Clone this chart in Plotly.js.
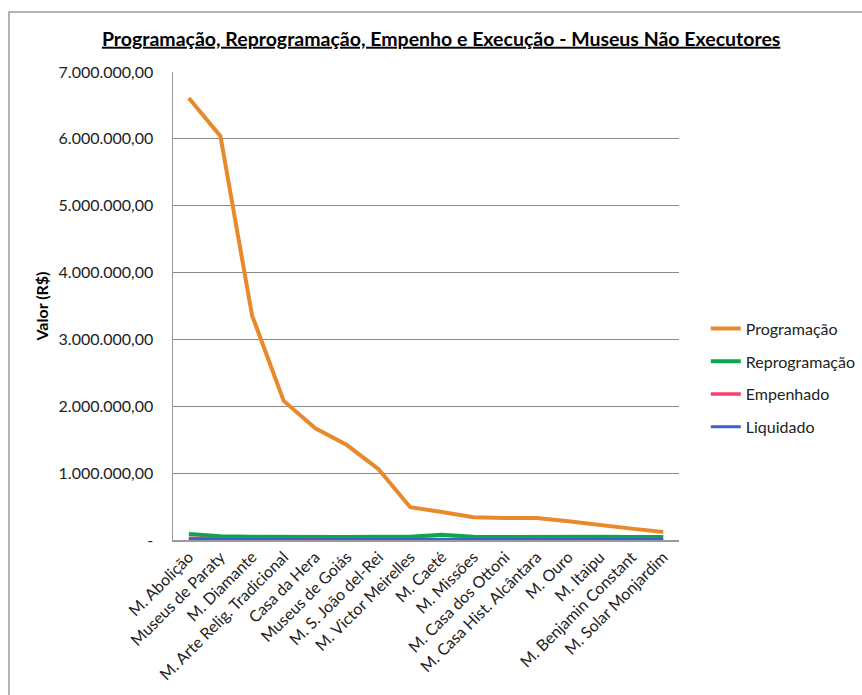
<!DOCTYPE html>
<html>
<head>
<meta charset="utf-8">
<script src="https://cdn.plot.ly/plotly-3.0.1.min.js"></script>
<style>
  html, body { margin: 0; padding: 0; background: #fff; }
  #chart { width: 862px; height: 695px; }
</style>
</head>
<body>
<div id="chart"></div>
<script>
const categories = [
  "M. Abolição", "Museus de Paraty", "M. Diamante", "M. Arte Relig. Tradicional",
  "Casa da Hera", "Museus de Goiás", "M. S. João del-Rei", "M. Victor Meirelles",
  "M. Caeté", "M. Missões", "M. Casa dos Ottoni", "M. Casa Hist. Alcântara",
  "M. Ouro", "M. Itaipu", "M. Benjamin Constant", "M. Solar Monjardim"
];
const programacao = [6610000, 6040000, 3360000, 2080000, 1670000, 1420000, 1060000, 490000,
  420000, 340000, 330000, 330000, 280000, 220000, 170000, 120000];
const reprogramacao = [90000, 55000, 50000, 45000, 40000, 45000, 50000, 50000,
  80000, 50000, 45000, 50000, 50000, 50000, 45000, 45000];
const empenhado = [25000, 20000, 15000, 5000, 0, 10000, 15000, 20000,
  0, 15000, 10000, 20000, 15000, 0, 20000, 0];
const liquidado = [15000, 10000, 10000, 5000, 5000, 10000, 10000, 15000,
  10000, 10000, 10000, 10000, 15000, 10000, 15000, 10000];
const yTickVals = [0, 1000000, 2000000, 3000000, 4000000, 5000000, 6000000, 7000000];
const yTickText = ["-", "1.000.000,00", "2.000.000,00", "3.000.000,00", "4.000.000,00",
  "5.000.000,00", "6.000.000,00", "7.000.000,00"];

const FONT = "Lato, 'Open Sans', sans-serif";

function tr(name, y, color, width, group) {
  return {
    type: 'scatter', mode: 'lines', name: name, x: categories, y: y,
    line: { color: color, width: width }, cliponaxis: false,
    legendgroup: group, hoverinfo: 'x+y'
  };
}

const data = [
  tr('Programação', programacao, '#E8892B', 4, 'a'),
  tr('Reprogramação', reprogramacao, '#0BA64E', 4, 'b'),
  tr('Empenhado', empenhado, '#FF3C6E', 3.5, 'c'),
  tr('Liquidado', liquidado, '#3A62C8', 3, 'd')
];

const layout = {
  width: 862, height: 695,
  margin: { l: 173, r: 183, t: 72, b: 155, autoexpand: false },
  paper_bgcolor: '#fff', plot_bgcolor: '#fff',
  font: { family: FONT, color: '#222', size: 16 },
  title: {
    text: '<b><u>Programação, Reprogramação, Empenho e Execução - Museus Não Executores</u></b>',
    font: { family: FONT, size: 19.5, color: '#000' },
    xref: 'paper', x: 0.53, xanchor: 'center',
    yref: 'container', y: 0.944, yanchor: 'middle'
  },
  xaxis: {
    type: 'category', range: [-0.5, 15.5],
    tickangle: -45, showgrid: false, showline: true, linecolor: '#9a9a9a', linewidth: 1.5,
    ticks: '', tickfont: { family: FONT, size: 16, color: '#222' }, zeroline: false,
    fixedrange: true
  },
  yaxis: {
    range: [0, 7000000], tickvals: yTickVals, ticktext: yTickText,
    showgrid: true, gridcolor: '#8a8a8a', gridwidth: 1,
    showline: true, linecolor: '#9a9a9a', linewidth: 1.5, zeroline: false,
    ticks: 'outside', ticklen: 15, tickcolor: 'rgba(255,255,255,0)',
    tickfont: { family: FONT, size: 16, color: '#222' },
    title: { text: '<b>Valor (R$)</b>', font: { family: FONT, size: 16, color: '#000' }, standoff: 6 },
    fixedrange: true
  },
  legend: {
    x: 1.053, xanchor: 'left', y: 0.346, yanchor: 'middle',
    font: { family: FONT, size: 16, color: '#222' },
    itemwidth: 30, tracegroupgap: 9, bgcolor: 'rgba(0,0,0,0)'
  },
  shapes: [{
    type: 'rect', xref: 'paper', yref: 'paper',
    x0: (9 - 173) / 506, x1: (880 - 173) / 506,
    y0: (540 - 710) / 468, y1: (540 - 12) / 468,
    line: { color: '#9a9a9a', width: 1.5 }, fillcolor: 'rgba(0,0,0,0)', layer: 'below'
  }],
  showlegend: true
};

Plotly.newPlot('chart', data, layout, { displayModeBar: false, staticPlot: true });
</script>
</body>
</html>
